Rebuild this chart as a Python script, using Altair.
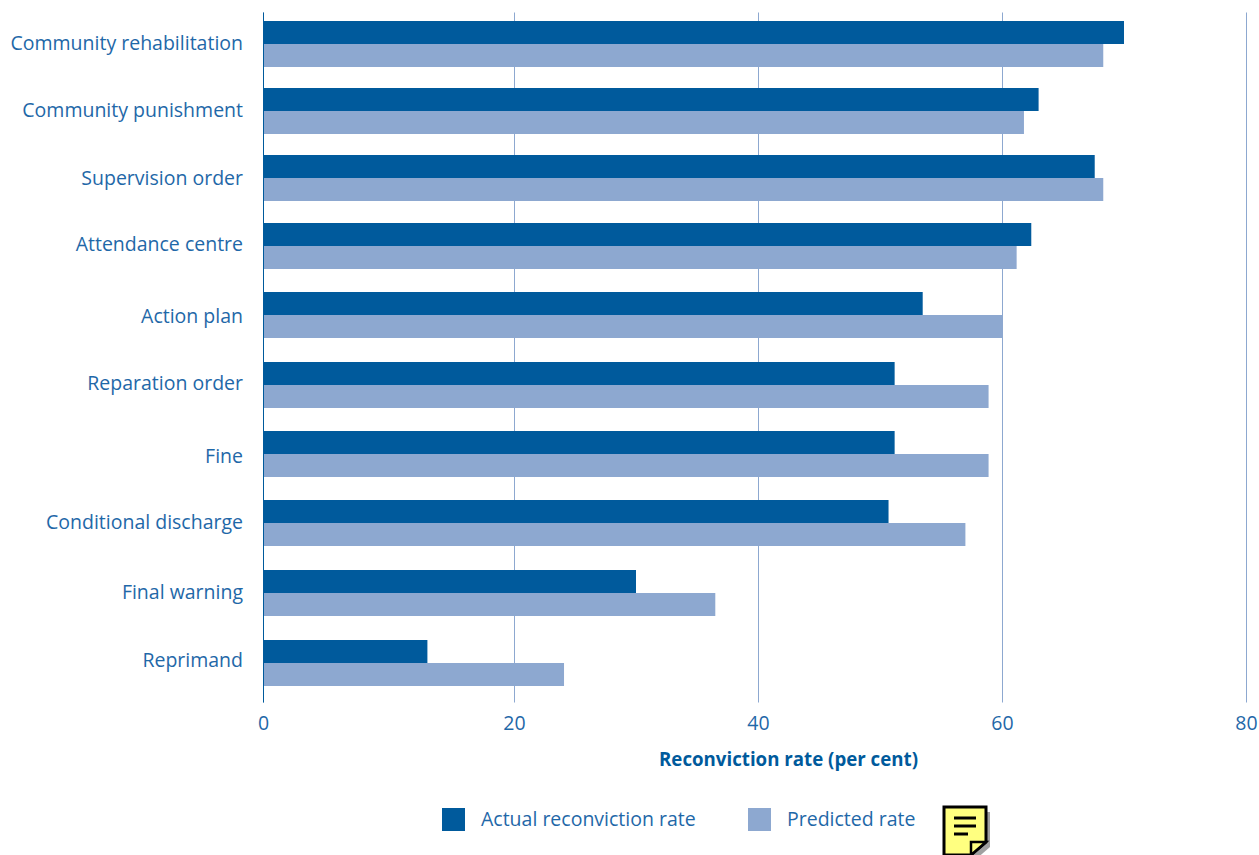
import altair as alt
import pandas as pd

categories = ["Community rehabilitation", "Community punishment", "Supervision order",
              "Attendance centre", "Action plan", "Reparation order", "Fine",
              "Conditional discharge", "Final warning", "Reprimand"]
actual = [70.0, 63.0, 67.6, 62.4, 53.5, 51.2, 51.2, 50.7, 30.0, 13.1]
predicted = [68.3, 61.8, 68.3, 61.2, 60.0, 58.9, 58.9, 57.0, 36.5, 24.1]
series_names = ["Actual reconviction rate", "Predicted rate"]
x_ticks = [0, 20, 40, 60, 80]

DARK = "#005a9c"
LIGHT = "#8da8d0"
TEXT = "#1f68a8"
FONT = "Open Sans"

rows = list(range(len(categories)))
df = pd.DataFrame({"row": rows, "category": categories, "actual": actual, "predicted": predicted})

# The printed axis is slightly uneven, so the position scales are piecewise.
x_scale = alt.Scale(domain=x_ticks, range=[0, 251, 495, 739, 983], padding=0)
row_domain = [-0.5] + rows + [9.5]
y_scale = alt.Scale(domain=row_domain,
                    range=[0, 32, 99, 166, 234, 303, 373, 442, 511, 581, 651, 690], padding=0)
label_scale = alt.Scale(domain=row_domain,
                        range=[0, 32, 99, 167, 233, 305, 372, 445, 511, 581, 649, 690], padding=0)
color_scale = alt.Scale(domain=series_names, range=[DARK, LIGHT])

x_axis = alt.Axis(
    values=x_ticks, grid=True, gridColor=LIGHT, gridWidth=1, domain=False, ticks=False,
    labelFont=FONT, labelFontSize=19.5, labelColor=TEXT, labelPadding=12, labelAngle=0,
    labelFlush=False, labelOverlap=False, labelBound=False,
    format="d", title="Reconviction rate (per cent)", titleFont=FONT, titleFontSize=18.7,
    titleFontWeight="bold", titleColor=DARK, titleX=525, titleY=57, titleAlign="center",
    titleBaseline="middle",
)
y_axis = alt.Axis(
    values=rows, grid=False, domain=True, domainColor=DARK, domainWidth=1, ticks=False,
    labels=False, title=None, zindex=1,
)
legend = alt.Legend(
    orient="none", legendX=179, legendY=796, direction="horizontal", columns=2,
    title=None, symbolType="square", symbolSize=529, symbolStrokeWidth=0,
    labelFont=FONT, labelFontSize=19.5, labelColor=TEXT, labelOffset=16,
    columnPadding=52, padding=0, labelLimit=400,
)


def bars(field, name, offset):
    return (
        alt.Chart(df)
        .transform_calculate(series=f"'{name}'")
        .mark_bar(size=23, yOffset=offset, orient="horizontal")
        .encode(
            x=alt.X(f"{field}:Q", scale=x_scale, stack=None, axis=x_axis),
            y=alt.Y("row:Q", scale=y_scale, axis=y_axis),
            color=alt.Color("series:N", scale=color_scale, legend=legend),
        )
    )


# Category names sit on their own scale: they do not quite follow the bar spacing.
category_labels = alt.Chart(df).mark_text(
    align="right", baseline="middle", font=FONT, fontSize=19.5, color=TEXT,
).encode(
    x=alt.value(-20),
    y=alt.Y("row:Q", scale=label_scale, axis=None),
    text="category:N",
)

# Note icon beside the legend, placed in pixels from the plot origin.
ox, oy = 944 - 263, 807 - 12
note = pd.DataFrame({"x": [ox], "y": [oy]})
SHAPE_BODY = "M0 0H42V35L27 48H0Z"
SHAPE_SHADOW = "M4 5H46V40L31 53H4Z"
SHAPE_FOLD = "M27 48V35H42Z"


def note_shape(path, fill, stroke=None, width=0):
    return alt.Chart(note).mark_point(
        shape=path, size=4, filled=True, fill=fill, stroke=stroke or fill,
        strokeWidth=width, opacity=1,
    ).encode(x=alt.value(ox), y=alt.value(oy))


def note_line(x1, x2, y):
    return alt.Chart(note).mark_rule(color="#000000", strokeWidth=3).encode(
        x=alt.value(ox + x1), x2=alt.value(ox + x2), y=alt.value(oy + y))


icon = [
    note_shape(SHAPE_SHADOW, "#a0a0a0"),
    note_shape(SHAPE_BODY, "#ffff80", "#000000", 3),
    note_shape(SHAPE_FOLD, "#ffff80", "#000000", 2.5),
    note_line(10, 32, 11),
    note_line(10, 32, 19),
    note_line(10, 24, 27),
]

plot = alt.layer(
    bars("actual", series_names[0], -11.5),
    bars("predicted", series_names[1], 11.5),
    *icon,
)

chart = alt.layer(plot, category_labels).resolve_scale(y="independent").properties(
    width=983, height=690, background="#ffffff",
    autosize=alt.AutoSizeParams(type="none"),
    padding={"left": 263, "top": 12, "right": 13, "bottom": 153},
).configure_view(stroke=None)

chart.save("out.html", embed_options={"renderer": "svg", "actions": False})
